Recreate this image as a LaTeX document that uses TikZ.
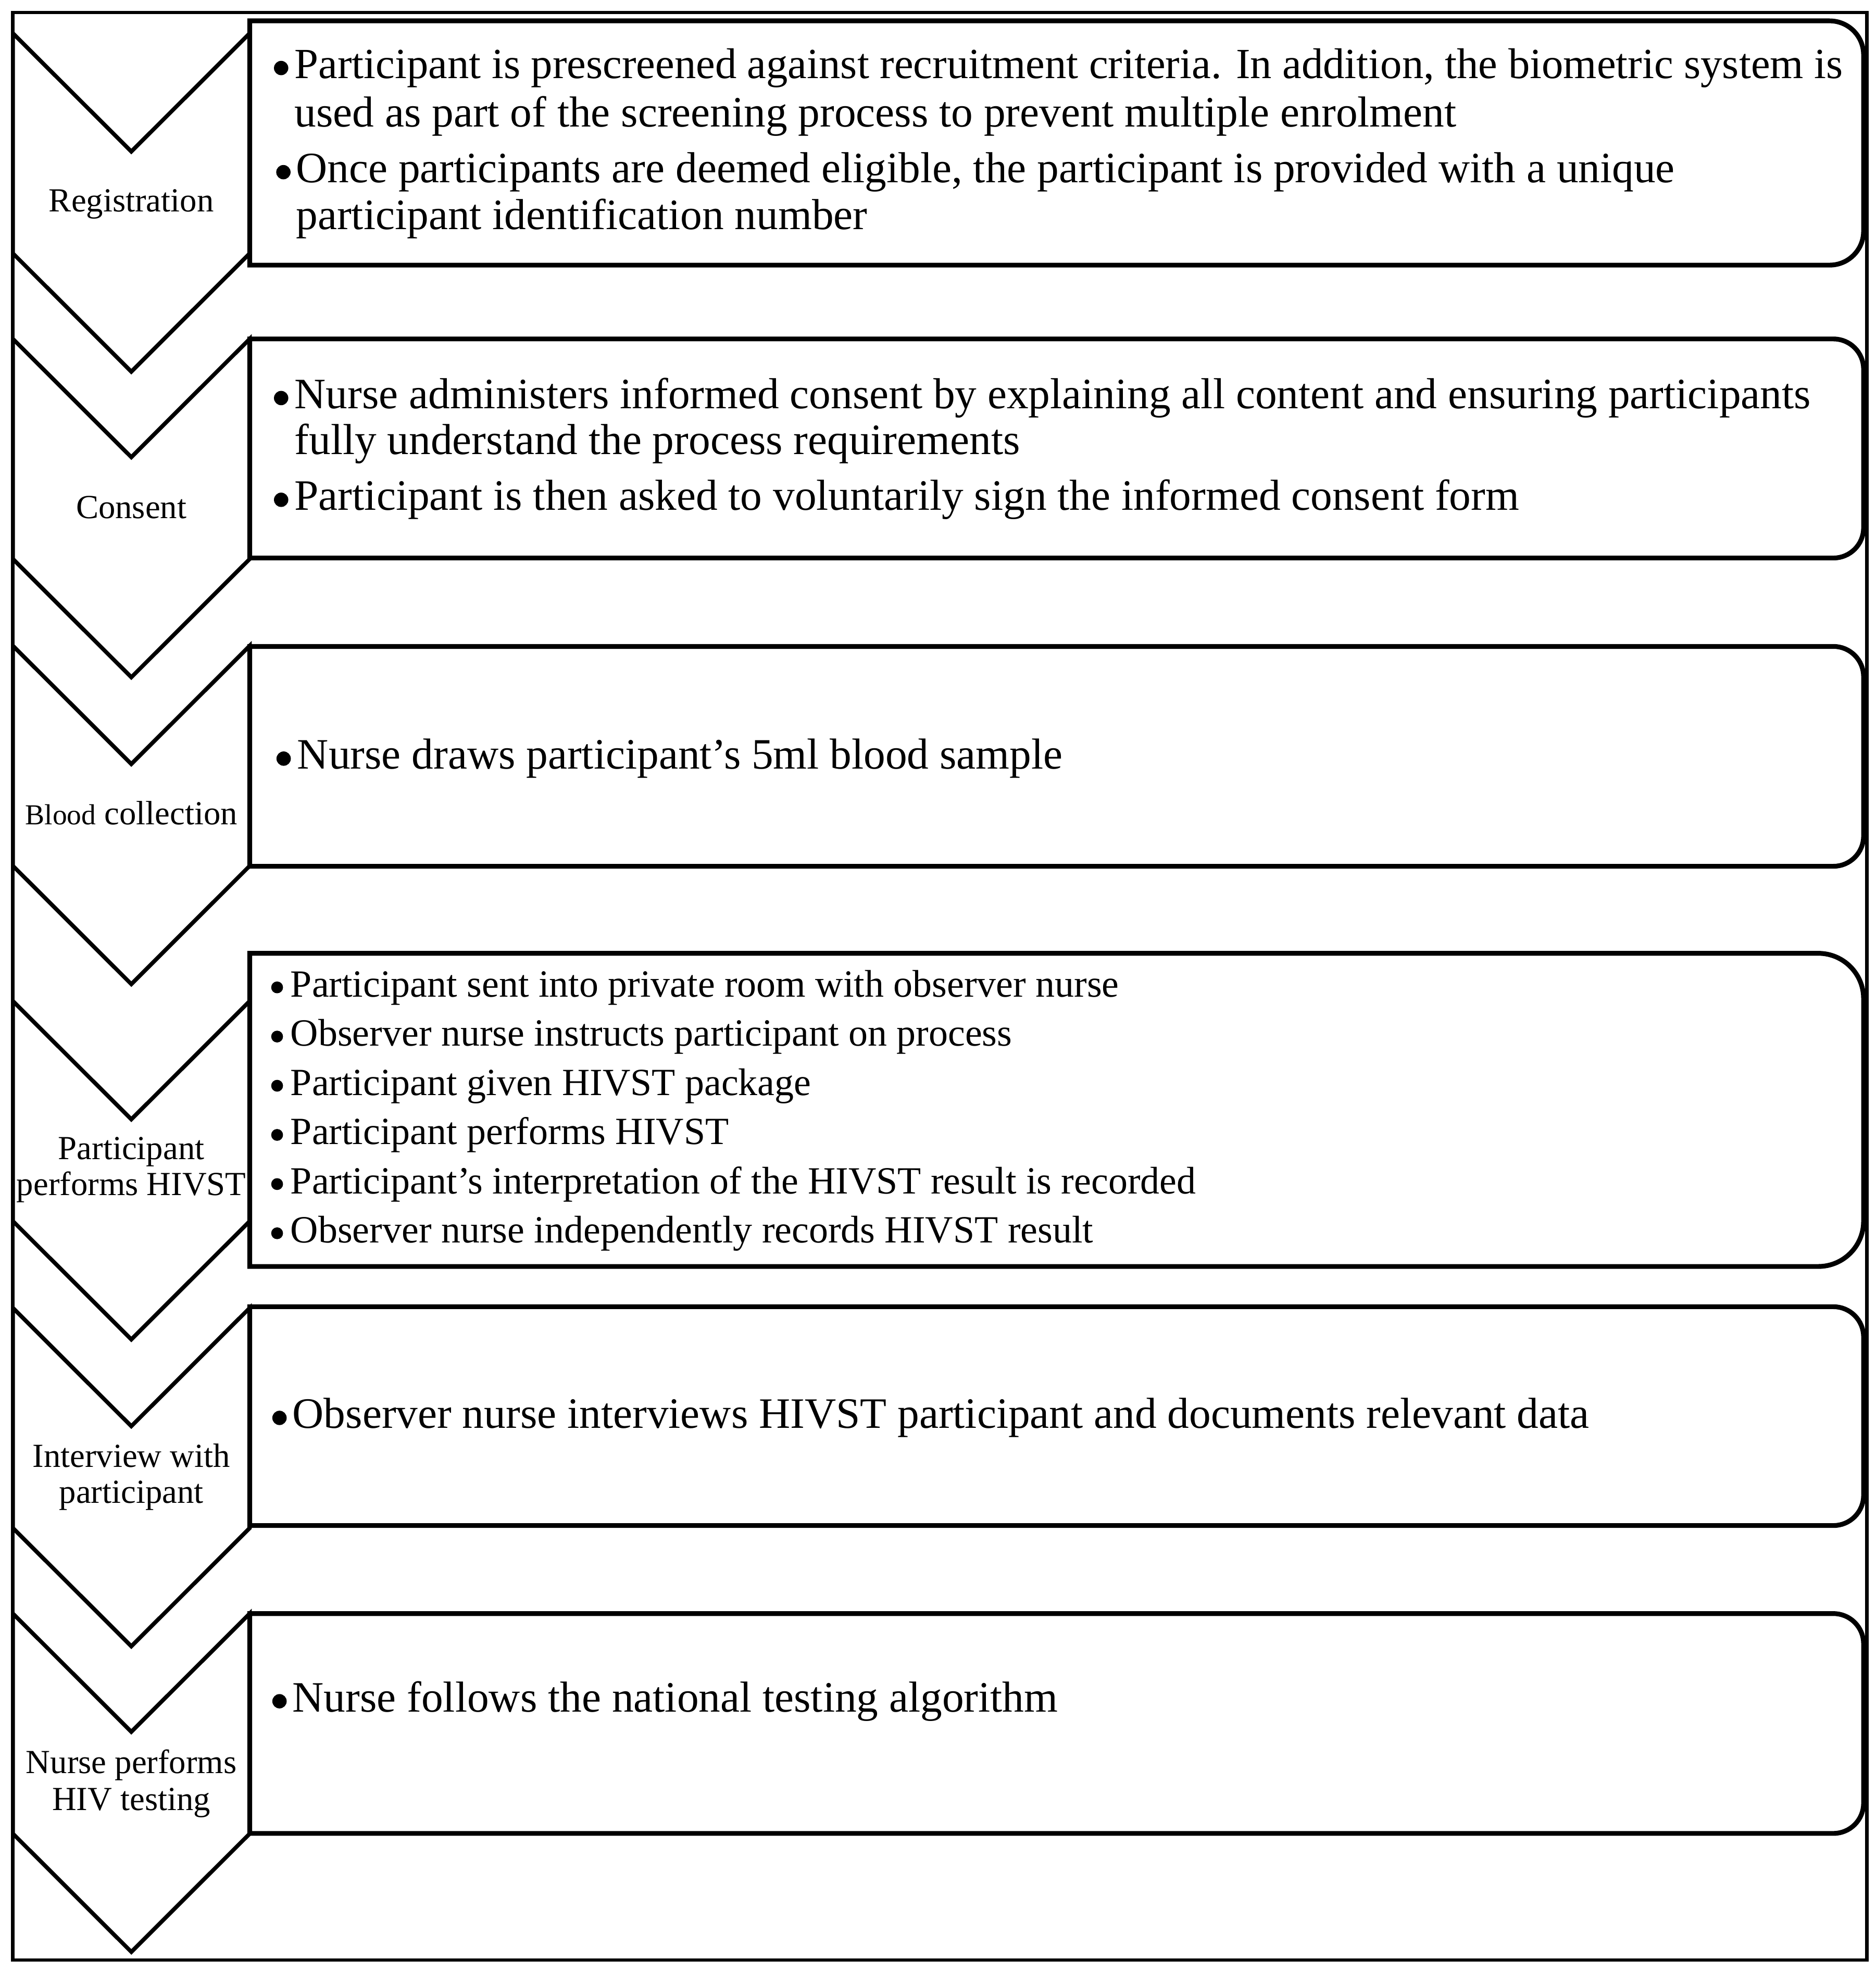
\documentclass[tikz,border=0pt]{standalone}
\usepackage{fontspec}
\setmainfont{Liberation Serif}
\tikzset{
  frameline/.style={draw, line width=1.4pt},
  chevline/.style={draw, line width=1.6pt, line join=miter},
  boxline/.style={draw, line width=1.9pt},
  bodytxt/.style={inner sep=0pt, anchor=base west, font=\fontsize{17.25}{20}\selectfont},
  listtxt/.style={inner sep=0pt, anchor=base west, font=\fontsize{15.3}{18}\selectfont},
  lbl/.style={inner sep=0pt, anchor=base, font=\fontsize{13.4}{15}\selectfont},
  bulletdot/.style={fill=black},
}
% bullet dot: x, baseline y, raise, radius (picture units)
\newcommand{\bulat}[4]{\fill[bulletdot] (#1,{#2-#3}) circle[radius=#4];}
\newcommand{\chevshape}[1]{\draw[chevline] (10.3,#1) -- (104.4,{#1+94}) -- (198.5,#1) -- (198.5,{#1+175}) -- (104.4,{#1+269}) -- (10.3,{#1+175}) -- cycle;}
\newcommand{\stepbox}[3]{\draw[boxline] (198.5,#1) -- ({1481.5-#3},#1) arc[start angle=-90,end angle=0,radius=#3] -- (1481.5,{#2-#3}) arc[start angle=0,end angle=90,radius=#3] -- (198.5,#2) -- cycle;}
\begin{document}
\begin{tikzpicture}[x=0.5pt,y=-0.5pt]
\useasboundingbox (0,0) rectangle (1491,1568);
% outer frame
\draw[frameline] (10.3,9.9) rectangle (1484,1558.5);
% chevrons
\chevshape{26.5}
\chevshape{269.5}
\chevshape{513.5}
\chevshape{796}
\chevshape{1040}
\chevshape{1283}
% boxes
\stepbox{16.6}{210.8}{27}
\stepbox{269.5}{443.7}{24}
\stepbox{514}{688.8}{24}
\stepbox{758}{1007}{36}
\stepbox{1039}{1213}{24}
\stepbox{1283}{1457.8}{24}
% chevron labels
\node[lbl] (l1) at (104.4,168.4) {Registration};
\node[lbl] (l2) at (104.4,412) {Consent};
\node[lbl] (l3) at (104.4,655.7) {{\fontsize{11.5}{13}\selectfont Blood} collection};
\node[lbl] (l4a) at (104.4,921.8) {Participant};
\node[lbl] (l4b) at (104.4,950.6) {performs HIVST};
\node[lbl] (l5a) at (104.4,1166.5) {Interview with};
\node[lbl] (l5b) at (104.4,1195) {participant};
\node[lbl] (l6a) at (104.4,1410) {Nurse performs};
\node[lbl] (l6b) at (104.4,1439.6) {HIV testing};
% box 1
\node[bodytxt, font=\fontsize{17.1}{20}\selectfont] (t1a) at (233.8,62.4) {Participant is prescreened against recruitment criteria. In addition, the biometric system is};
\node[bodytxt] (t1b) at (233.8,100.8) {used as part of the screening process to prevent multiple enrolment};
\node[bodytxt] (t1c) at (235,145.2) {Once participants are deemed eligible, the participant is provided with a unique};
\node[bodytxt] (t1d) at (235,182.2) {participant identification number};
\bulat{223.5}{62.4}{8.3}{5.7}
\bulat{225.3}{145.2}{8.3}{5.7}
% box 2
\node[bodytxt] (t2a) at (233.8,324.8) {Nurse administers informed consent by explaining all content and ensuring participants};
\node[bodytxt] (t2b) at (233.8,361.3) {fully understand the process requirements};
\node[bodytxt] (t2c) at (233.8,405.7) {Participant is then asked to voluntarily sign the informed consent form};
\bulat{223.5}{324.8}{8.3}{5.7}
\bulat{223.5}{405.7}{8.3}{5.7}
% box 3
\node[bodytxt] (t3a) at (236,611.5) {Nurse draws participant's 5ml blood sample};
\bulat{225.5}{611.5}{8.3}{5.7}
% box 4
\node[listtxt] (t4a) at (230.6,792.6) {Participant sent into private room with observer nurse};
\node[listtxt] (t4b) at (230.6,831.7) {Observer nurse instructs participant on process};
\node[listtxt] (t4c) at (230.6,870.8) {Participant given HIVST package};
\node[listtxt] (t4d) at (230.6,909.9) {Participant performs HIVST};
\node[listtxt] (t4e) at (230.6,949) {Participant's interpretation of the HIVST result is recorded};
\node[listtxt] (t4f) at (230.6,988.1) {Observer nurse independently records HIVST result};
\foreach \by in {792.6,831.7,870.8,909.9,949,988.1}{\bulat{220.3}{\by}{7.5}{4.7}}
% box 5
\node[bodytxt] (t5a) at (232.2,1135.7) {Observer nurse interviews HIVST participant and documents relevant data};
\bulat{222.2}{1135.7}{8.3}{5.7}
% box 6
\node[bodytxt] (t6a) at (232.2,1361) {Nurse follows the national testing algorithm};
\bulat{222.2}{1361}{8.3}{5.7}
\end{tikzpicture}
\end{document}
